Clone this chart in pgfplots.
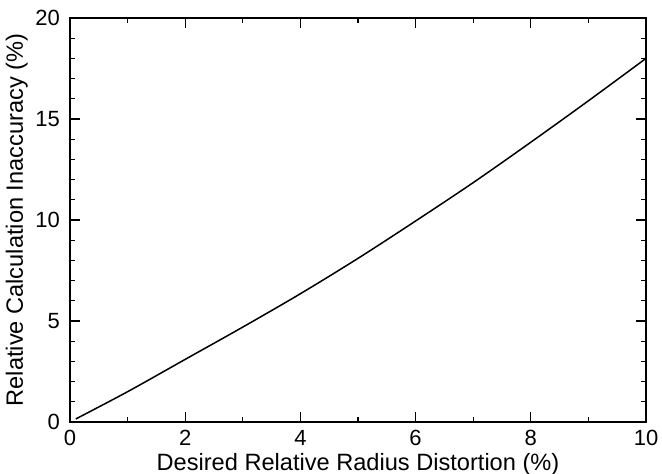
\documentclass[border=0pt]{standalone}
\usepackage{fontspec}
\setmainfont{Liberation Sans}
\usepackage{pgfplots}
\pgfplotsset{compat=1.18}
\begin{document}
\begin{tikzpicture}
\begin{axis}[
  scale only axis,
  width=288pt, height=202pt,
  xmin=0, xmax=10, ymin=0, ymax=20,
  xtick={0,2,...,10}, ytick={0,5,...,20},
  minor xtick={1,3,5,7,9},
  minor ytick={1,2,3,4,6,7,8,9,11,12,13,14,16,17,18,19},
  tick align=inside,
  major tick length=5pt, minor tick length=2.5pt,
  tick style={black, line width=0.6pt},
  axis line style={line width=1pt},
  every tick label/.append style={font=\fontsize{11}{13}\selectfont},
  label style={font=\fontsize{11.8}{13}\selectfont},
  /pgf/number format/assume math mode=true,
  xlabel={Desired Relative Radius Distortion (\%)},
  ylabel={Relative Calculation Inaccuracy (\%)},
  xlabel style={yshift=3pt},
  ylabel style={yshift=-3pt},
  xticklabel style={yshift=-0.5pt},
  yticklabel style={xshift=-1.5pt},
]
\addplot[black, line width=0.75pt, smooth] coordinates {
  (0.1,0.15) (1,1.5) (2,3.1) (3,4.7) (4,6.35) (5,8.1) (6,9.95) (7,11.85) (8,13.85) (9,15.9) (10,18.0)
};
\end{axis}
% page frame around the axis and its labels
\pgfresetboundingbox
\path (current axis.south west) ++(-35pt,-26pt) rectangle ++(331pt,237pt);
\end{tikzpicture}
\end{document}
